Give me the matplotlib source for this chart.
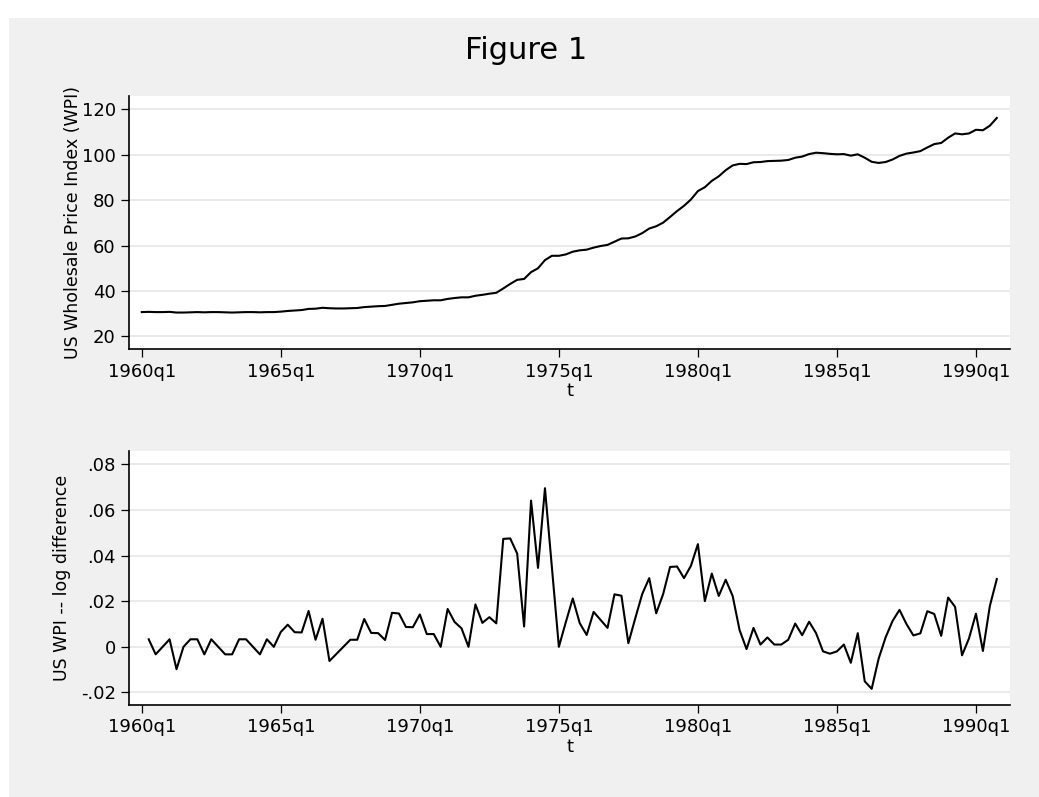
import matplotlib
matplotlib.use('Agg')
import matplotlib.pyplot as plt
import numpy as np

# US Wholesale Price Index, quarterly 1960q1 .. 1990q4
wpi = [30.7, 30.8, 30.7, 30.7, 30.8, 30.5, 30.5, 30.6, 30.7, 30.6,
       30.7, 30.7, 30.6, 30.5, 30.6, 30.7, 30.7, 30.6, 30.7, 30.7,
       30.9, 31.2, 31.4, 31.6, 32.1, 32.2, 32.6, 32.4, 32.3, 32.3,
       32.4, 32.5, 32.9, 33.1, 33.3, 33.4, 33.9, 34.4, 34.7, 35.0,
       35.5, 35.7, 35.9, 35.9, 36.5, 36.9, 37.2, 37.2, 37.9, 38.3,
       38.8, 39.2, 41.1, 43.1, 44.9, 45.3, 48.3, 50.0, 53.6, 55.5,
       55.5, 56.1, 57.3, 57.9, 58.2, 59.1, 59.8, 60.3, 61.7, 63.1,
       63.2, 64.0, 65.5, 67.5, 68.5, 70.1, 72.6, 75.2, 77.5, 80.3,
       84.0, 85.7, 88.5, 90.5, 93.2, 95.3, 96.0, 95.9, 96.7, 96.8,
       97.2, 97.3, 97.4, 97.7, 98.7, 99.2, 100.3, 100.9, 100.7, 100.4,
       100.2, 100.3, 99.6, 100.2, 98.7, 96.9, 96.4, 96.8, 97.9, 99.5,
       100.5, 101.0, 101.6, 103.2, 104.7, 105.2, 107.5, 109.4, 109.0, 109.4,
       111.0, 110.8, 112.8, 116.2]

# log difference, 1960q2 .. 1990q4
dln_wpi = [0.0033, -0.0033, 0.0, 0.0033, -0.0098, 0.0, 0.0033, 0.0033, -0.0033,
           0.0033, 0.0, -0.0033, -0.0033, 0.0033, 0.0033, 0.0, -0.0033, 0.0033, 0.0,
           0.0065, 0.0097, 0.0064, 0.0063, 0.0157, 0.0031, 0.0123, -0.0062, -0.0031, 0.0,
           0.0031, 0.0031, 0.0122, 0.0061, 0.0060, 0.0030, 0.0149, 0.0146, 0.0087, 0.0086,
           0.0142, 0.0056, 0.0056, 0.0, 0.0166, 0.0109, 0.0081, 0.0, 0.0186, 0.0105,
           0.0130, 0.0103, 0.0473, 0.0475, 0.0409, 0.0089, 0.0641, 0.0346, 0.0695, 0.0348,
           0.0, 0.0108, 0.0212, 0.0104, 0.0052, 0.0153, 0.0118, 0.0083, 0.0230, 0.0224,
           0.0016, 0.0126, 0.0232, 0.0301, 0.0147, 0.0231, 0.0350, 0.0352, 0.0301, 0.0355,
           0.0450, 0.0200, 0.0321, 0.0223, 0.0294, 0.0223, 0.0073, -0.0010, 0.0083, 0.0010,
           0.0041, 0.0010, 0.0010, 0.0031, 0.0102, 0.0051, 0.0110, 0.0060, -0.0020, -0.0030,
           -0.0020, 0.0010, -0.0070, 0.0060, -0.0151, -0.0184, -0.0052, 0.0041, 0.0113, 0.0162,
           0.0100, 0.0050, 0.0059, 0.0156, 0.0144, 0.0048, 0.0216, 0.0175, -0.0037, 0.0037,
           0.0145, -0.0018, 0.0179, 0.0297]

tick_pos = [0, 20, 40, 60, 80, 100, 120]
tick_labels = ['1960q1', '1965q1', '1970q1', '1975q1', '1980q1', '1985q1', '1990q1']

t = np.arange(len(wpi))  # quarters since 1960q1

bg = '#f0f0f0'
grid_c = '#e8e8e8'

fig = plt.figure(figsize=(10.39, 7.97), dpi=100, facecolor='white')
fig.patches.append(plt.Rectangle((9 / 1039, 0), 1 - 9 / 1039, 1 - 18 / 797,
                                 transform=fig.transFigure, facecolor=bg,
                                 edgecolor='none', zorder=-10))

ax1 = fig.add_axes([0.1242, 0.5617, 0.8479, 0.3179])
ax2 = fig.add_axes([0.1242, 0.1154, 0.8479, 0.3187])


def style(ax):
    ax.set_facecolor('white')
    for s in ['top', 'right']:
        ax.spines[s].set_visible(False)
    for s in ['left', 'bottom']:
        ax.spines[s].set_linewidth(1.2)
        ax.spines[s].set_color('black')
    ax.grid(True, axis='y', color=grid_c, linewidth=1.3)
    ax.set_axisbelow(True)
    ax.set_xlim(-1.83, 124.9)
    ax.set_xticks(tick_pos)
    ax.set_xticklabels(tick_labels)
    ax.tick_params(axis='both', length=5.5, width=0.9, labelsize=13, pad=4)
    ax.set_xlabel('t', fontsize=13, labelpad=1)


ax1.plot(t, wpi, color='black', linewidth=1.5)
style(ax1)
ax1.set_ylim(14.3, 125.9)
ax1.set_yticks([20, 40, 60, 80, 100, 120])
ax1.set_ylabel('US Wholesale Price Index (WPI)', fontsize=12.5, labelpad=0)

ax2.plot(t[1:], dln_wpi, color='black', linewidth=1.5)
style(ax2)
ax2.set_ylim(-0.0255, 0.0858)
ax2.set_yticks([-0.02, 0, 0.02, 0.04, 0.06, 0.08])
ax2.set_yticklabels(['-.02', '0', '.02', '.04', '.06', '.08'])
ax2.set_ylabel('US WPI -- log difference', fontsize=12.5, labelpad=7)

fig.text(0.506, 0.937, 'Figure 1', fontsize=22, ha='center', va='center')

fig.savefig('out.png', dpi=100, facecolor=fig.get_facecolor())
